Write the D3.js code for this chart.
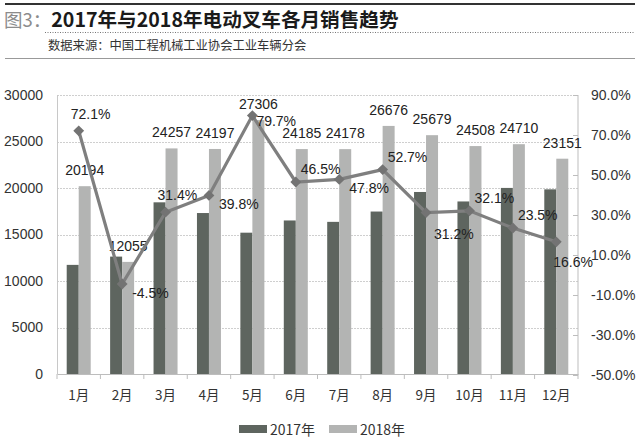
<!DOCTYPE html>
<html><head><meta charset="utf-8">
<script src="https://cdn.jsdelivr.net/npm/d3@7"></script>
<style>
body{margin:0;background:#fff;}
svg{display:block;font-family:"Liberation Sans","Noto Sans CJK SC",sans-serif;}
.cjk{font-family:"Noto Sans CJK SC",sans-serif;}
</style></head>
<body>
<svg id="c" width="640" height="440"></svg>
<script>
const months = ["1月","2月","3月","4月","5月","6月","7月","8月","9月","10月","11月","12月"];
const sales2017 = [11734,12623,18460,17308,15195,16509,16359,17469,19572,18553,20008,19855];
const sales2018 = [20194,12055,24257,24197,27306,24185,24178,26676,25679,24508,24710,23151];
const growth = [72.1,-4.5,31.4,39.8,79.7,46.5,47.8,52.7,31.2,32.1,23.5,16.6];
const growthLabelPlace = ["above","belowRight","above","belowRight","right","aboveRight","belowRight","aboveRight","below","aboveRight","aboveRight","belowNear"];
const leftTicks = [0,5000,10000,15000,20000,25000,30000];
const rightTicks = [-50,-30,-10,10,30,50,70,90];
const seriesNames = ["2017年","2018年"];
const colors = {"2017年":"#5e655f","2018年":"#b3b4b3"};
const titlePrefix = "图3：";
const titleText = "2017年与2018年电动叉车各月销售趋势";
const sourceText = "数据来源：中国工程机械工业协会工业车辆分会";

const svg = d3.select("#c");
const L = 57, R = 578, T = 95, B = 374;

// header
svg.append("line").attr("x1",5).attr("x2",635).attr("y1",4).attr("y2",4).attr("stroke","#333").attr("stroke-width",2);
const tt = svg.append("text").attr("class","cjk").attr("x",4).attr("y",26.5);
tt.append("tspan").attr("font-size",18.5).attr("fill","#8c8c8c").text(titlePrefix);
tt.append("tspan").attr("font-size",19.6).attr("font-weight",600).attr("fill","#1a1a1a").text(titleText);
svg.append("line").attr("x1",45).attr("x2",635).attr("y1",32.5).attr("y2",32.5).attr("stroke","#777").attr("stroke-width",1).attr("stroke-dasharray","1,1.5");
svg.append("text").attr("class","cjk").attr("x",48).attr("y",50).attr("font-size",12.3).attr("fill","#333").text(sourceText);
svg.append("line").attr("x1",5).attr("x2",635).attr("y1",58.5).attr("y2",58.5).attr("stroke","#999").attr("stroke-width",1);

const x = d3.scaleBand().domain(months).range([L,R]).padding(0);
const bw = x.bandwidth();
const xs = d3.scaleBand().domain(seriesNames).range([bw/2-12,bw/2+12]);
const yL = d3.scaleLinear().domain([0,30000]).range([B,T]);
const yR = d3.scaleLinear().domain([-50,90]).range([B+1,T]);

// gridlines
svg.append("g").selectAll("line").data(leftTicks.filter(d=>d>0)).join("line")
  .attr("x1",L).attr("x2",R).attr("y1",d=>Math.round(yL(d))+0.5).attr("y2",d=>Math.round(yL(d))+0.5)
  .attr("stroke","#cfcfcf").attr("stroke-dasharray","2,1");

// side axis line
svg.append("line").attr("x1",L+0.5).attr("x2",L+0.5).attr("y1",T).attr("y2",B).attr("stroke","#c8c8c8");

// bars
const rows = months.map((m,i)=>({m, v:[sales2017[i],sales2018[i]]}));
const gb = svg.append("g");
rows.forEach(r=>{
  seriesNames.forEach((s,j)=>{
    gb.append("rect").attr("x",x(r.m)+xs(s)).attr("width",xs.bandwidth())
      .attr("y",yL(r.v[j])).attr("height",B-yL(r.v[j])).attr("fill",colors[s]);
  });
});

// bottom axis
const ax = svg.append("g").attr("transform",`translate(0,${B})`)
  .call(d3.axisBottom(x).tickSize(0).tickPadding(16));
ax.select(".domain").attr("stroke","#bdbdbd");
ax.selectAll("text").attr("class","cjk").attr("font-size",13.5).attr("fill","#333");
svg.append("g").selectAll("line").data(d3.range(months.length+1)).join("line")
  .attr("x1",i=>L+i*bw).attr("x2",i=>L+i*bw).attr("y1",B).attr("y2",B+5).attr("stroke","#bdbdbd");

// left axis
const al = svg.append("g").attr("transform",`translate(${L},0)`)
  .call(d3.axisLeft(yL).tickValues(leftTicks).tickSize(0).tickPadding(14).tickFormat(d3.format("d")));
al.select(".domain").remove();
al.selectAll("text").attr("font-size",14).attr("fill","#333");

// right axis
const ar = svg.append("g").attr("transform",`translate(${R},0)`)
  .call(d3.axisRight(yR).tickValues(rightTicks).tickSize(-5).tickPadding(13).tickFormat(d=>d.toFixed(1)+"%"));
ar.select(".domain").attr("stroke","#bdbdbd").attr("d",`M0,${T}V${B}`);
ar.selectAll(".tick line").attr("stroke","#bdbdbd");
ar.selectAll("text").attr("font-size",14).attr("fill","#333");

// bar labels (2018)
svg.append("g").selectAll("text").data(rows).join("text")
  .attr("x",r=>x(r.m)+xs("2018年")+xs.bandwidth()/2).attr("y",r=>yL(r.v[1])-11)
  .attr("text-anchor","middle").attr("font-size",14).attr("fill","#222").text(r=>r.v[1]);

// growth line
const px = (m)=>x(m)+bw/2;
const line = d3.line().x((d,i)=>px(months[i])).y(d=>yR(d));
svg.append("path").datum(growth).attr("d",line).attr("fill","none").attr("stroke","#7f7f7f").attr("stroke-width",3.2);
svg.append("g").selectAll("path").data(growth).join("path")
  .attr("transform",(d,i)=>`translate(${px(months[i])},${yR(d)})`)
  .attr("d",d3.symbol(d3.symbolDiamond2,75)).attr("fill","#737373");

const place = {
  above:{dx:-8,dy:-12},
  belowRight:{dx:10,dy:14},
  right:{dx:4,dy:10},
  aboveRight:{dx:5,dy:-8},
  below:{dx:8,dy:26},
  belowNear:{dx:-3,dy:25}
};
svg.append("g").selectAll("text").data(growth).join("text")
  .attr("x",(d,i)=>px(months[i])+place[growthLabelPlace[i]].dx)
  .attr("y",(d,i)=>yR(d)+place[growthLabelPlace[i]].dy)
  .attr("font-size",14).attr("fill","#222").text(d=>d.toFixed(1)+"%");

// legend
const lg = svg.append("g");
seriesNames.forEach((s,j)=>{
  const x0 = 239 + j*90;
  lg.append("rect").attr("x",x0).attr("y",425).attr("width",28).attr("height",8).attr("fill",colors[s]);
  lg.append("text").attr("class","cjk").attr("x",x0+31).attr("y",434.5).attr("font-size",14).attr("fill","#333").text(s);
});
</script>
</body></html>
